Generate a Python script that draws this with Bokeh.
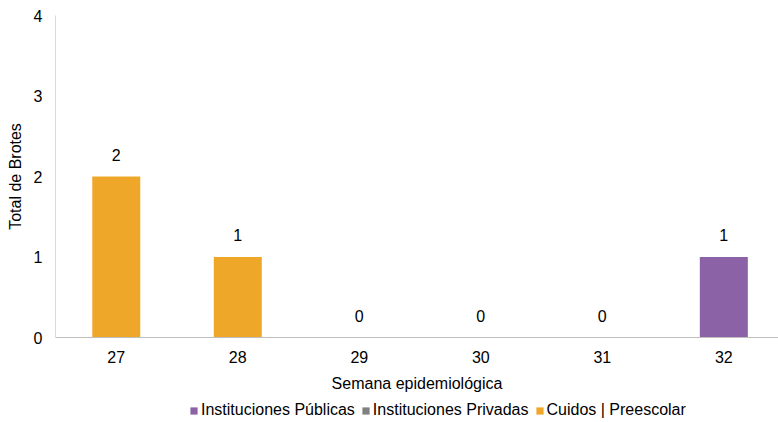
from bokeh.plotting import figure
from bokeh.layouts import column
from bokeh.models import Range1d, FixedTicker, ColumnDataSource, Legend, LegendItem
from bokeh.embed import file_html
from bokeh.resources import INLINE
from bokeh.core.properties import value

semanas = ["27", "28", "29", "30", "31", "32"]
publicas = [0, 0, 0, 0, 0, 1]
privadas = [0, 0, 0, 0, 0, 0]
cuidos = [2, 1, 0, 0, 0, 0]
series = ["Instituciones Públicas", "Instituciones Privadas", "Cuidos | Preescolar"]
colores = ["#8B62A5", "#808080", "#EFA72A"]

FONT = "Liberation Sans"
FS = "16px"
x = list(range(len(semanas)))
totales = [a + b + c for a, b, c in zip(publicas, privadas, cuidos)]

src = ColumnDataSource(dict(x=x, pub=publicas, priv=privadas, cui=cuidos,
                            tot=totales, lab=[str(t) for t in totales]))

p = figure(width=778, height=394, output_backend="svg", toolbar_location=None,
           x_range=Range1d(-0.5, 5.45), y_range=Range1d(0, 4),
           min_border_left=55, min_border_right=0, min_border_top=15, min_border_bottom=0)
p.outline_line_color = None
p.xgrid.visible = False
p.ygrid.visible = False

r = p.vbar_stack(["pub", "priv", "cui"], x="x", width=0.395, source=src,
                 color=colores, line_color=None)

p.text(x="x", y="tot", text="lab", source=src, text_align="center",
       text_baseline="bottom", y_offset=-16, text_font=value(FONT),
       text_font_size=FS, text_color="#000000")

p.xaxis.ticker = FixedTicker(ticks=x)
p.xaxis.major_label_overrides = {i: s for i, s in enumerate(semanas)}
p.yaxis.ticker = FixedTicker(ticks=[0, 1, 2, 3, 4])
for ax in (p.xaxis, p.yaxis):
    ax.major_tick_line_color = None
    ax.minor_tick_line_color = None
    ax.major_tick_out = 0
    ax.major_tick_in = 0
    ax.minor_tick_out = 0
    ax.major_label_text_font = FONT
    ax.major_label_text_font_size = FS
    ax.major_label_text_color = "#000000"
    ax.axis_label_text_font = FONT
    ax.axis_label_text_font_size = FS
    ax.axis_label_text_font_style = "normal"
    ax.axis_label_text_color = "#000000"
p.xaxis.axis_line_color = "#BFBFBF"
p.yaxis.axis_line_color = "#D9D9D9"
p.xaxis.axis_label = "Semana epidemiológica"
p.yaxis.axis_label = "Total de Brotes"
p.xaxis.major_label_standoff = 13
p.xaxis.axis_label_standoff = 9
p.yaxis.major_label_standoff = 13
p.yaxis.axis_label_standoff = 7

# legend in its own small figure
lg = figure(width=778, height=28, output_backend="svg", toolbar_location=None,
            x_range=Range1d(0, 1), y_range=Range1d(0, 1),
            min_border=0, x_axis_type=None, y_axis_type=None)
lg.outline_line_color = None
lg.xgrid.visible = False
lg.ygrid.visible = False
offscreen = ColumnDataSource(dict(x=[10], top=[1]))
dummies = [lg.vbar(x="x", top="top", width=0.1, source=offscreen, color=c, line_color=None)
           for c in colores]
legend = Legend(items=[LegendItem(label=s, renderers=[rr]) for s, rr in zip(series, dummies)],
                orientation="horizontal", location=(134, 3),
                label_text_font=FONT, label_text_font_size=FS,
                label_text_color="#000000", glyph_width=9, glyph_height=9,
                label_standoff=3, spacing=6, padding=0, margin=0,
                border_line_color=None, background_fill_alpha=0)
lg.add_layout(legend, "center")

open("out.html", "w").write(file_html(column(p, lg, spacing=0), INLINE))
